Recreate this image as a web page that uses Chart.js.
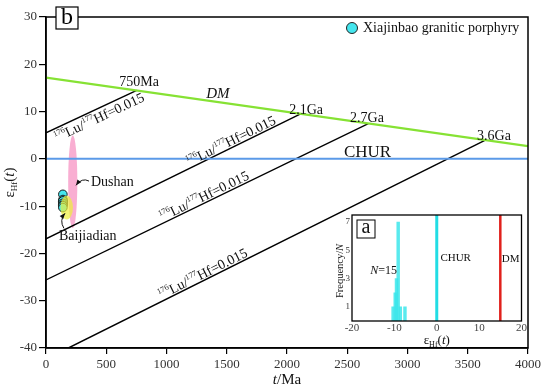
<!DOCTYPE html>
<html>
<head>
<meta charset="utf-8">
<script src="https://cdn.jsdelivr.net/npm/chart.js@4.4.1/dist/chart.umd.min.js"></script>
<style>
  body { margin: 0; background: #fff; }
  #wrap { position: relative; width: 550px; height: 390px; }
  #main { position: absolute; left: 0; top: 0; }
  #inset { position: absolute; left: 328px; top: 205px; }
</style>
</head>
<body>
<div id="wrap">
  <canvas id="main" width="550" height="390"></canvas>
  <canvas id="inset" width="200" height="145"></canvas>
</div>
<script>
const SERIF = "'Liberation Serif', 'Times New Roman', serif";

// main diagram: t (Ma) vs eHf(t)
const dmLine = [[0, 17.2], [4000, 2.7]];
const churLine = [[0, 0], [4000, 0]];
const crustLines = [
  [[0, 5.5], [753, 14.5]],
  [[0, -16.9], [2113, 9.5]],
  [[0, -25.6], [2675, 7.45]],
  [[186, -40], [3650, 4.0]],
];
const modelAges = ["750Ma", "2.1Ga", "2.7Ga", "3.6Ga"];

// Xiajinbao granitic porphyry zircons
const sampleAge = [140, 141, 139, 140, 141, 140, 139, 141, 140, 140, 139, 141, 140, 139, 140];
const sampleEHf = [-7.5, -8.6, -9.0, -9.1, -9.2, -9.0, -9.3, -9.1, -8.9, -9.5, -9.6, -9.4, -9.8, -9.9, -10.3];

// fields: [centre t, centre eHf, half width (Ma), half height (eHf)]
const dushanField = [222, -4.85, 38, 9.85];
const baijiadianField = [172, -10.3, 52, 2.5];

// inset histogram
const histBins = [-10.3, -9.8, -9.5, -9.1, -8.6, -7.5];
const histCounts = [1, 2, 3, 7, 1, 1];
const insetYTicks = [1, 3, 5, 7];
const churInset = 0;
const dmInset = 15;

// label anchors (data coords)
const ageLabelPos = [[772, 16.2], [2158, 10.3], [2664, 8.6], [3718, 4.8]];
const ratioLabelStart = [45, 1195, 971, 963];
const ratioLabelSide = [13, -2, -2, -2];

const pts = arr => arr.map(p => ({ x: p[0], y: p[1] }));

function drawRich(ctx, parts, x, y, align) {
  let w = 0;
  parts.forEach(p => { ctx.font = p.font; p.w = ctx.measureText(p.t).width; w += p.w; });
  let cx = align === "center" ? x - w / 2 : x;
  parts.forEach(p => { ctx.font = p.font; ctx.fillText(p.t, cx, y + (p.dy || 0)); cx += p.w; });
}

function arrow(ctx, a, c, b) {
  ctx.beginPath();
  ctx.moveTo(a[0], a[1]);
  ctx.quadraticCurveTo(c[0], c[1], b[0], b[1]);
  ctx.stroke();
  const ang = Math.atan2(b[1] - c[1], b[0] - c[0]);
  ctx.beginPath();
  ctx.moveTo(b[0], b[1]);
  ctx.lineTo(b[0] - 6 * Math.cos(ang - 0.4), b[1] - 6 * Math.sin(ang - 0.4));
  ctx.lineTo(b[0] - 6 * Math.cos(ang + 0.4), b[1] - 6 * Math.sin(ang + 0.4));
  ctx.closePath();
  ctx.fill();
}

function ellipse(ctx, chart, f, color) {
  const x = chart.scales.x, y = chart.scales.y;
  const cx = x.getPixelForValue(f[0]), cy = y.getPixelForValue(f[1]);
  const rx = Math.abs(x.getPixelForValue(f[0] + f[2]) - cx);
  const ry = Math.abs(y.getPixelForValue(f[1] + f[3]) - cy);
  ctx.save();
  ctx.fillStyle = color;
  ctx.beginPath();
  ctx.ellipse(cx, cy, rx, ry, 0, 0, Math.PI * 2);
  ctx.fill();
  ctx.restore();
}

const mainDecor = {
  id: "mainDecor",
  beforeDatasetsDraw(chart) {
    ellipse(chart.ctx, chart, dushanField, "rgba(248,165,205,0.9)");
  },
  afterDatasetsDraw(chart) {
    const ctx = chart.ctx, x = chart.scales.x, y = chart.scales.y, a = chart.chartArea;
    const px = v => x.getPixelForValue(v), py = v => y.getPixelForValue(v);
    ellipse(ctx, chart, baijiadianField, "rgba(238,240,60,0.7)");

    ctx.save();
    ctx.fillStyle = "#111";
    ctx.strokeStyle = "#111";
    ctx.textBaseline = "middle";
    ctx.textAlign = "center";

    // model ages
    ctx.font = "14px " + SERIF;
    modelAges.forEach((s, i) => ctx.fillText(s, px(ageLabelPos[i][0]), py(ageLabelPos[i][1])));
    ctx.font = "italic 15px " + SERIF;
    ctx.fillText("DM", px(1427), py(13.7));
    ctx.font = "17px " + SERIF;
    ctx.fillText("CHUR", px(2668), py(1.4));

    // 176Lu/177Hf labels along each line
    ctx.textAlign = "left";
    ctx.textBaseline = "alphabetic";
    crustLines.forEach((ln, i) => {
      const x0 = px(ln[0][0]), y0 = py(ln[0][1]), x1 = px(ln[1][0]), y1 = py(ln[1][1]);
      const ang = Math.atan2(y1 - y0, x1 - x0);
      const f = (ratioLabelStart[i] - ln[0][0]) / (ln[1][0] - ln[0][0]);
      ctx.save();
      ctx.translate(x0 + f * (x1 - x0), y0 + f * (y1 - y0));
      ctx.rotate(ang);
      drawRich(ctx, [
        { t: "176", font: "8px " + SERIF, dy: -6 },
        { t: "Lu/", font: "14px " + SERIF },
        { t: "177", font: "8px " + SERIF, dy: -6 },
        { t: "Hf=0.015", font: "14px " + SERIF },
      ], 0, ratioLabelSide[i], "left");
      ctx.restore();
    });

    // field names and arrows
    ctx.textBaseline = "middle";
    ctx.font = "14px " + SERIF;
    ctx.fillText("Dushan", px(373), py(-5.0));
    ctx.fillText("Baijiadian", px(108), py(-16.4));
    ctx.lineWidth = 1;
    arrow(ctx, [px(357), py(-4.7)], [px(299), py(-3.9)], [px(249), py(-5.6)]);
    arrow(ctx, [px(149), py(-14.7)], [px(108), py(-13.0)], [px(158), py(-11.5)]);

    // frame
    ctx.lineWidth = 1.5;
    ctx.strokeStyle = "#000";
    ctx.strokeRect(a.left, a.top, a.right - a.left, a.bottom - a.top);

    // panel letter
    ctx.fillStyle = "#fff";
    ctx.fillRect(a.left + 10, a.top - 10, 22, 22);
    ctx.lineWidth = 1.2;
    ctx.strokeRect(a.left + 10, a.top - 10, 22, 22);
    ctx.fillStyle = "#000";
    ctx.textAlign = "center";
    ctx.font = "24px " + SERIF;
    ctx.fillText("b", a.left + 21, a.top + 0.5);

    // legend
    ctx.beginPath();
    ctx.arc(a.right - 176, a.top + 11, 5.5, 0, Math.PI * 2);
    ctx.fillStyle = "#44e6ee";
    ctx.fill();
    ctx.lineWidth = 1;
    ctx.strokeStyle = "#222";
    ctx.stroke();
    ctx.fillStyle = "#111";
    ctx.textAlign = "left";
    ctx.font = "14px " + SERIF;
    ctx.fillText("Xiajinbao granitic porphyry", a.right - 165, a.top + 11);

    // axis titles
    ctx.textBaseline = "alphabetic";
    drawRich(ctx, [
      { t: "t", font: "italic 15px " + SERIF },
      { t: "/Ma", font: "15px " + SERIF },
    ], (a.left + a.right) / 2, 384, "center");
    ctx.save();
    ctx.translate(14, (a.top + a.bottom) / 2);
    ctx.rotate(-Math.PI / 2);
    drawRich(ctx, [
      { t: "\u03b5", font: "15px " + SERIF },
      { t: "Hf", font: "9px " + SERIF, dy: 3 },
      { t: "(", font: "15px " + SERIF },
      { t: "t", font: "italic 15px " + SERIF },
      { t: ")", font: "15px " + SERIF },
    ], 0, 0, "center");
    ctx.restore();
    ctx.restore();
  }
};

const tickFont = { family: SERIF, size: 13 };

new Chart(document.getElementById("main"), {
  type: "scatter",
  data: {
    datasets: [
      { data: pts(churLine), showLine: true, borderColor: "#5b9ae8", borderWidth: 2, pointRadius: 0 },
      { data: pts(dmLine), showLine: true, borderColor: "#86e234", borderWidth: 2.2, pointRadius: 0 },
      ...crustLines.map(ln => ({ data: pts(ln), showLine: true, borderColor: "#000", borderWidth: 1.4, pointRadius: 0 })),
      {
        data: sampleAge.map((t, i) => ({ x: t, y: sampleEHf[i] })),
        pointRadius: 4.3, backgroundColor: "#44e6ee", borderColor: "#1a1a1a", borderWidth: 1
      },
    ]
  },
  options: {
    responsive: false,
    animation: false,
    layout: { padding: { top: 17, right: 22, left: 0, bottom: 0 } },
    plugins: { legend: { display: false }, tooltip: { enabled: false } },
    scales: {
      x: {
        type: "linear", min: 0, max: 4000,
        ticks: { stepSize: 500, font: tickFont, color: "#333", padding: 3, maxRotation: 0, autoSkip: false, callback: v => String(v) },
        grid: { drawOnChartArea: false, drawTicks: true, tickLength: 6, color: "#000", lineWidth: 1.2 },
        border: { color: "#000", width: 1.5 },
        afterFit: s => { s.height = 42; }
      },
      y: {
        min: -40, max: 30,
        ticks: { stepSize: 10, font: tickFont, color: "#333", padding: 2, callback: v => String(v) },
        grid: { drawOnChartArea: false, drawTicks: true, tickLength: 7, color: "#000", lineWidth: 1.2 },
        border: { color: "#000", width: 1.5 },
        afterFit: s => { s.width = 46; }
      }
    }
  },
  plugins: [mainDecor]
});

const insetDecor = {
  id: "insetDecor",
  afterDraw(chart) {
    const ctx = chart.ctx, x = chart.scales.x, y = chart.scales.y, a = chart.chartArea;
    const px = v => x.getPixelForValue(v), py = v => y.getPixelForValue(v);
    ctx.save();
    ctx.strokeStyle = "#000";
    ctx.lineWidth = 1.3;
    ctx.strokeRect(a.left, a.top, a.right - a.left, a.bottom - a.top);
    ctx.lineWidth = 1;
    ctx.strokeRect(a.left + 5, a.top + 5, 18, 18);
    ctx.fillStyle = "#111";
    ctx.textAlign = "center";
    ctx.textBaseline = "middle";
    ctx.font = "20px " + SERIF;
    ctx.fillText("a", a.left + 14, a.top + 13);

    ctx.font = "11px " + SERIF;
    ctx.textAlign = "left";
    ctx.fillText("CHUR", px(0.86), py(4.44));
    ctx.fillText("DM", px(15.35), py(4.37));
    ctx.textBaseline = "alphabetic";
    drawRich(ctx, [
      { t: "N", font: "italic 12px " + SERIF },
      { t: "=15", font: "12px " + SERIF },
    ], px(-12.56), py(3.6) + 4, "center");

    drawRich(ctx, [
      { t: "\u03b5", font: "13px " + SERIF },
      { t: "Hf", font: "8px " + SERIF, dy: 3 },
      { t: "(", font: "13px " + SERIF },
      { t: "t", font: "italic 13px " + SERIF },
      { t: ")", font: "13px " + SERIF },
    ], (a.left + a.right) / 2, a.bottom + 23, "center");

    ctx.translate(a.left - 9, (a.top + a.bottom) / 2 + 3);
    ctx.rotate(-Math.PI / 2);
    drawRich(ctx, [
      { t: "Frequency/", font: "10.5px " + SERIF },
      { t: "N", font: "italic 10.5px " + SERIF },
    ], 0, 0, "center");
    ctx.restore();
  }
};

new Chart(document.getElementById("inset"), {
  type: "bar",
  data: {
    datasets: [
      {
        type: "bar",
        data: histBins.map((b, i) => ({ x: b, y: histCounts[i] })),
        backgroundColor: "rgba(60,230,235,0.85)", barThickness: 2.8, grouped: false
      },
      { type: "line", data: [{ x: churInset, y: 0 }, { x: churInset, y: 7.5 }], borderColor: "#22dde4", borderWidth: 3, pointRadius: 0 },
      { type: "line", data: [{ x: dmInset, y: 0 }, { x: dmInset, y: 7.5 }], borderColor: "#e0201c", borderWidth: 2.5, pointRadius: 0 },
    ]
  },
  options: {
    responsive: false,
    animation: false,
    layout: { padding: { top: 10, right: 4, left: 0, bottom: 0 } },
    plugins: { legend: { display: false }, tooltip: { enabled: false } },
    scales: {
      x: {
        type: "linear", min: -20, max: 20, offset: false,
        ticks: { stepSize: 10, font: { family: SERIF, size: 11 }, color: "#444", padding: 1, maxRotation: 0, callback: v => String(v) },
        grid: { display: false, drawTicks: false },
        border: { display: false },
        afterFit: s => { s.height = 29; }
      },
      y: {
        min: 0, max: 7.5,
        afterBuildTicks: s => { s.ticks = insetYTicks.map(v => ({ value: v })); },
        ticks: { font: { family: SERIF, size: 9 }, color: "#333", padding: 2 },
        grid: { display: false, drawTicks: false },
        border: { display: false },
        afterFit: s => { s.width = 24; }
      }
    }
  },
  plugins: [insetDecor]
});
</script>
</body>
</html>
